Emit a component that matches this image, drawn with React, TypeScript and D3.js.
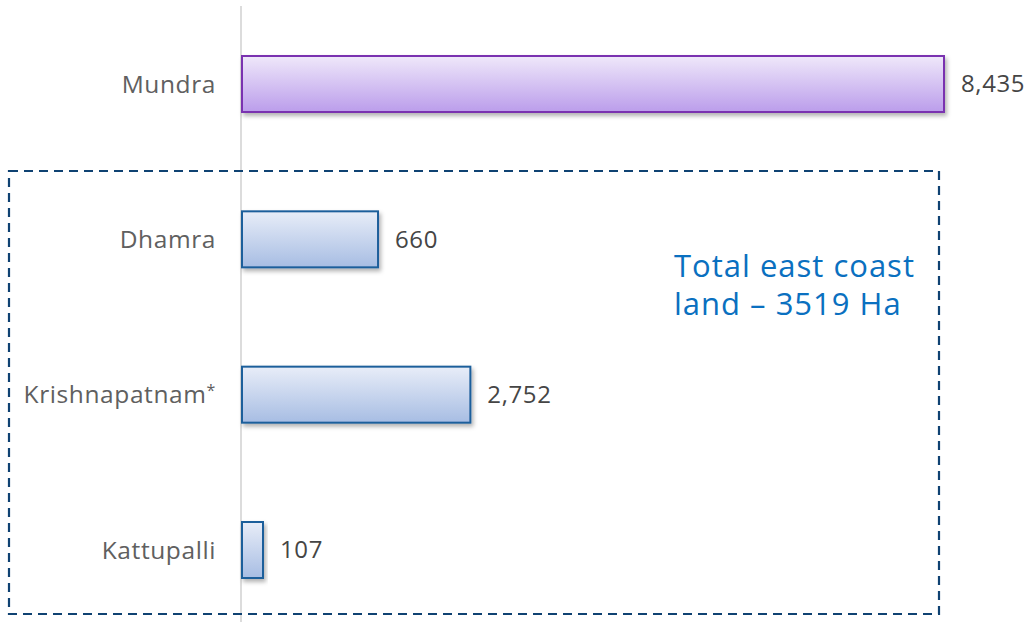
import { useEffect, useRef } from "react";
import * as d3 from "d3";

// ports, top to bottom
const ports = ["Mundra", "Dhamra", "Krishnapatnam", "Kattupalli"];
// land in Ha as printed next to each bar
const valueLabels = ["8,435", "660", "2,752", "107"];
// bar lengths as drawn in the source picture (the source bars are not to scale)
const barValues = [8435, 1644, 2752, 264];
const boxText = ["Total east coast", "land \u2013 3519 Ha"];

const W = 1030;
const H = 622;

const App = () => {
  const svgRef = useRef(null);

  useEffect(() => {
    const svg = d3.select(svgRef.current);
    svg.selectAll("*").remove();

    const x = d3.scaleLinear([0, 8435], [241, 944]);
    const y = d3.scalePoint(ports, [84, 550]);
    const barH = 56;
    const font = "'Open Sans', 'Noto Sans', sans-serif";

    const defs = svg.append("defs");
    const grads = [
      { id: "gPurple", top: "#efe8fa", bottom: "#bb9deb" },
      { id: "gBlue", top: "#e8edf8", bottom: "#a7bde3" },
    ];
    grads.forEach((g) => {
      const lg = defs.append("linearGradient").attr("id", g.id).attr("x1", 0).attr("y1", 0).attr("x2", 0).attr("y2", 1);
      lg.append("stop").attr("offset", "0%").attr("stop-color", g.top);
      lg.append("stop").attr("offset", "100%").attr("stop-color", g.bottom);
    });
    const f = defs.append("filter").attr("id", "shadow").attr("x", "-10%").attr("y", "-20%").attr("width", "130%").attr("height", "160%");
    f.append("feDropShadow").attr("dx", 2).attr("dy", 3).attr("stdDeviation", 2).attr("flood-color", "#000").attr("flood-opacity", 0.3);

    // vertical axis line
    svg.append("line")
      .attr("x1", x(0)).attr("x2", x(0))
      .attr("y1", 6).attr("y2", H)
      .attr("stroke", "#d0d0d0").attr("stroke-width", 1.5);

    // dashed box around east coast ports
    svg.append("rect")
      .attr("x", 9).attr("y", 171)
      .attr("width", 930).attr("height", 443)
      .attr("fill", "none")
      .attr("stroke", "#0f4272")
      .attr("stroke-width", 2.2)
      .attr("stroke-dasharray", "9,6");

    const rows = svg.selectAll("g.row")
      .data(ports)
      .join("g")
      .attr("class", "row");

    rows.append("rect")
      .attr("x", x(0) + 1)
      .attr("y", (d) => y(d) - barH / 2)
      .attr("width", (d, i) => x(barValues[i]) - x(0) - 1)
      .attr("height", barH)
      .attr("fill", (d, i) => (i === 0 ? "url(#gPurple)" : "url(#gBlue)"))
      .attr("stroke", (d, i) => (i === 0 ? "#7a30b0" : "#1f5f9b"))
      .attr("stroke-width", 2)
      .attr("filter", "url(#shadow)");

    rows.append("text")
      .attr("x", 216)
      .attr("y", (d) => y(d))
      .attr("dy", "0.35em")
      .attr("text-anchor", "end")
      .attr("font-family", font)
      .attr("font-size", 24.5)
      .attr("letter-spacing", 0.6)
      .attr("fill", "#606060")
      .each(function (d) {
        const t = d3.select(this);
        if (d === "Krishnapatnam") {
          t.append("tspan").text(d);
          t.append("tspan").attr("dy", "-0.45em").attr("font-size", 16).text("*");
        } else {
          t.text(d);
        }
      });

    rows.append("text")
      .attr("x", (d, i) => x(barValues[i]) + 17)
      .attr("y", (d) => y(d))
      .attr("dy", "0.35em")
      .attr("font-family", font)
      .attr("font-size", 24)
      .attr("letter-spacing", 0.6)
      .attr("fill", "#454545")
      .text((d, i) => valueLabels[i]);

    svg.append("text")
      .attr("x", 674)
      .attr("font-family", font)
      .attr("font-size", 31)
      .attr("letter-spacing", 1)
      .attr("fill", "#0a70c0")
      .selectAll("tspan")
      .data(boxText)
      .join("tspan")
      .attr("x", 674)
      .attr("y", (d, i) => 277 + i * 38)
      .text((d) => d);
  }, []);

  return (
    <svg ref={svgRef} width={W} height={H} style={{ position: "absolute", left: 0, top: 0, background: "#fff" }}></svg>
  );
};

export default App;
